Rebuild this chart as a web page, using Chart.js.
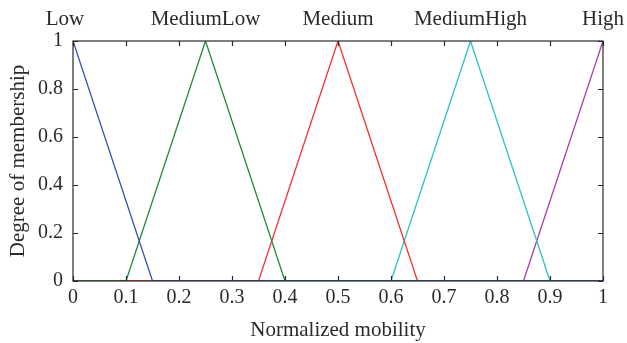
<!DOCTYPE html>
<html>
<head>
<meta charset="utf-8">
<script src="https://cdn.jsdelivr.net/npm/chart.js@4"></script>
<style>
  html, body { margin: 0; padding: 0; background: #fff; }
  #wrap { width: 627px; height: 343px; position: relative; }
</style>
</head>
<body>
<div id="wrap"><canvas id="c" width="627" height="343"></canvas></div>
<script>
// Series names (membership functions)
const seriesNames = ["Low", "MediumLow", "Medium", "MediumHigh", "High"];
// Breakpoints (x) and membership values (y)
const lowX = [0, 0.15, 1];
const lowY = [1, 0, 0];
const mediumLowX = [0, 0.1, 0.25, 0.4, 1];
const mediumLowY = [0, 0, 1, 0, 0];
const mediumX = [0, 0.35, 0.5, 0.65, 1];
const mediumY = [0, 0, 1, 0, 0];
const mediumHighX = [0, 0.6, 0.75, 0.9, 1];
const mediumHighY = [0, 0, 1, 0, 0];
const highX = [0, 0.85, 1];
const highY = [0, 0, 1];
// Peak positions where the names are written above the plot
const labelPeaks = [0, 0.25, 0.5, 0.75, 1];
// Tick labels
const xTicks = [0, 0.1, 0.2, 0.3, 0.4, 0.5, 0.6, 0.7, 0.8, 0.9, 1];
const yTicks = [0, 0.2, 0.4, 0.6, 0.8, 1];

const colors = ["#3a4fb0", "#1f8a3c", "#f03232", "#2fc0c0", "#a43ea4"];
const xs = [lowX, mediumLowX, mediumX, mediumHighX, highX];
const ys = [lowY, mediumLowY, mediumY, mediumHighY, highY];

const FONT = "'Liberation Serif', 'DejaVu Serif', serif";

const datasets = seriesNames.map((n, i) => ({
  label: n,
  data: xs[i].map((x, j) => ({ x: x, y: ys[i][j] })),
  borderColor: colors[i],
  borderWidth: 1.3,
  pointRadius: 0,
  tension: 0,
  fill: false
}));

const boxPlugin = {
  id: 'box',
  afterDraw(chart) {
    const ctx = chart.ctx;
    const a = chart.chartArea;
    const xs_ = chart.scales.x, ys_ = chart.scales.y;
    ctx.save();
    ctx.strokeStyle = '#2a2a2a';
    ctx.lineWidth = 1.2;
    ctx.strokeRect(a.left, a.top, a.right - a.left, a.bottom - a.top);
    const L = 5;
    ctx.beginPath();
    xTicks.forEach(v => {
      const p = Math.round(xs_.getPixelForValue(v)) + 0.5;
      ctx.moveTo(p, a.bottom); ctx.lineTo(p, a.bottom - L);
      ctx.moveTo(p, a.top); ctx.lineTo(p, a.top + L);
    });
    yTicks.forEach(v => {
      const p = Math.round(ys_.getPixelForValue(v)) + 0.5;
      ctx.moveTo(a.left, p); ctx.lineTo(a.left + L, p);
      ctx.moveTo(a.right, p); ctx.lineTo(a.right - L, p);
    });
    ctx.stroke();
    // names above the plot
    ctx.fillStyle = '#2a2a2a';
    ctx.font = "21px " + FONT;
    ctx.textAlign = 'center';
    ctx.textBaseline = 'alphabetic';
    labelPeaks.forEach((v, i) => {
      let px = xs_.getPixelForValue(v);
      if (i === 0) px -= 8;
      ctx.fillText(seriesNames[i], px, 25);
    });
    ctx.restore();
  }
};

new Chart(document.getElementById('c'), {
  type: 'line',
  data: { datasets: datasets },
  options: {
    responsive: false,
    animation: false,
    layout: { autoPadding: false, padding: { top: 41, right: 24, left: 0, bottom: 0 } },
    plugins: { legend: { display: false }, tooltip: { enabled: false } },
    scales: {
      x: {
        type: 'linear', min: 0, max: 1,
        afterFit(s) { s.height = 62; },
        afterBuildTicks(s) { s.ticks = xTicks.map(v => ({ value: v })); },
        grid: { display: false, drawTicks: false },
        border: { display: false },
        ticks: {
          color: '#2a2a2a', padding: 5, maxRotation: 0, autoSkip: false,
          font: { family: FONT, size: 20 },
          callback: v => String(v)
        },
        title: {
          display: true, text: 'Normalized mobility', color: '#2a2a2a',
          font: { family: FONT, size: 21 }, padding: { top: 4, bottom: 0 }
        }
      },
      y: {
        type: 'linear', min: 0, max: 1,
        afterFit(s) { s.width = 73; },
        afterBuildTicks(s) { s.ticks = yTicks.map(v => ({ value: v })); },
        grid: { display: false, drawTicks: false },
        border: { display: false },
        ticks: {
          color: '#2a2a2a', padding: 10, autoSkip: false,
          font: { family: FONT, size: 20 },
          callback: v => String(v)
        },
        title: {
          display: true, text: 'Degree of membership', color: '#2a2a2a',
          font: { family: FONT, size: 21 }, padding: { top: 6, bottom: 4 }
        }
      }
    }
  },
  plugins: [boxPlugin]
});
</script>
</body>
</html>
